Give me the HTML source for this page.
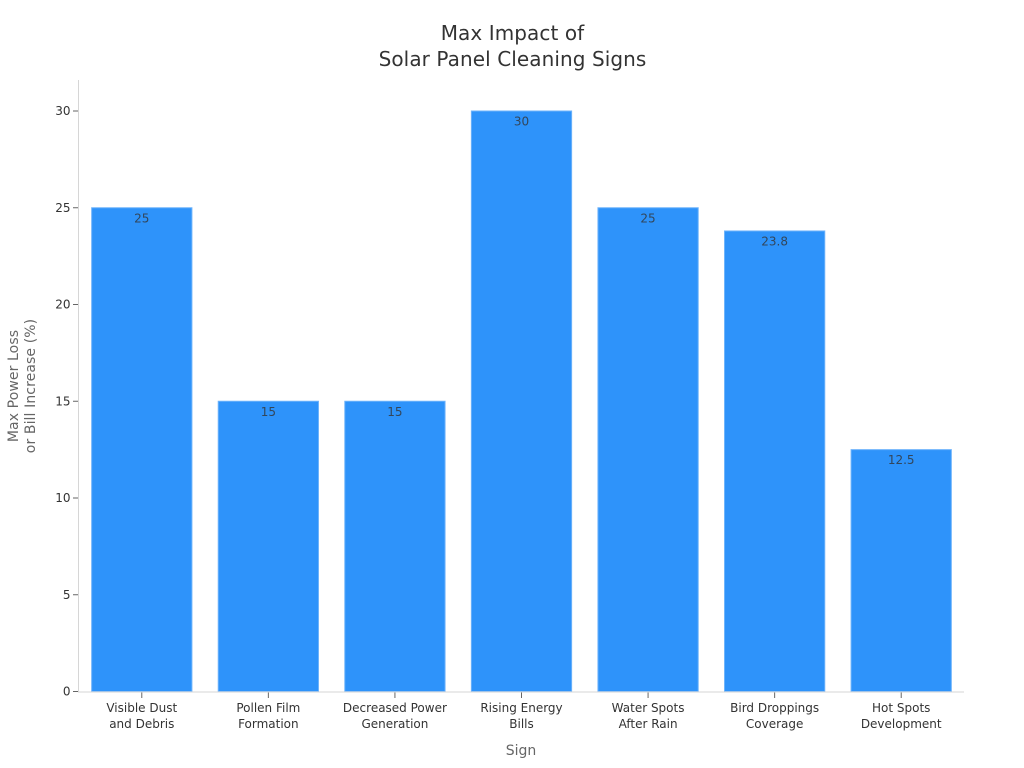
<!DOCTYPE html>
<html lang="en">
<head>
<meta charset="utf-8">
<title>Max Impact of Solar Panel Cleaning Signs</title>
<style>
html,body{margin:0;padding:0;background:#fff;width:1024px;height:768px;overflow:hidden}
svg{display:block;font-family:"DejaVu Sans","Liberation Sans",sans-serif}
</style>
</head>
<body>
<svg id="chart" xmlns="http://www.w3.org/2000/svg" width="1024" height="768" viewBox="0 0 1024 768">
  <rect width="1024" height="768" fill="#ffffff"/>
  <g fill="#333333" font-size="20" letter-spacing="0.08" text-anchor="middle">
    <text x="512.5" y="40">Max Impact of</text>
    <text x="512.5" y="66">Solar Panel Cleaning Signs</text>
  </g>
  <g id="ticks-y"></g>
  <g id="bars"></g>
  <g id="ticks-x"></g>
  <line x1="78.5" y1="80" x2="78.5" y2="692" stroke="#d6d6d6" stroke-width="1"/>
  <line x1="78" y1="692" x2="964" y2="692" stroke="#d6d6d6" stroke-width="1"/>
  <text x="521" y="755" font-size="14" fill="#666666" text-anchor="middle">Sign</text>
  <g fill="#666666" font-size="14" letter-spacing="0.1" text-anchor="middle" transform="translate(0,386) rotate(-90)">
    <text x="0" y="18">Max Power Loss</text>
    <text x="0" y="35">or Bill Increase (%)</text>
  </g>
</svg>
<script>
const categories = [
  ["Visible Dust", "and Debris"],
  ["Pollen Film", "Formation"],
  ["Decreased Power", "Generation"],
  ["Rising Energy", "Bills"],
  ["Water Spots", "After Rain"],
  ["Bird Droppings", "Coverage"],
  ["Hot Spots", "Development"]
];
const seriesValues = [25, 15, 15, 30, 25, 23.8, 12.5];
const valueLabels = ["25", "15", "15", "30", "25", "23.8", "12.5"];
const yTickValues = [0, 5, 10, 15, 20, 25, 30];

const NS = "http://www.w3.org/2000/svg";
const plotLeft = 78.5, plotRight = 964.5, plotBottom = 691.5, plotTop30 = 111;
function yScale(v) {
  return plotBottom - (v / 30) * (plotBottom - plotTop30);
}
function bandWidth() {
  return (plotRight - plotLeft) / categories.length;
}
function xCenter(i) {
  return plotLeft + bandWidth() * (i + 0.5);
}
function make(tag, attrs, parent) {
  const el = document.createElementNS(NS, tag);
  for (const k in attrs) el.setAttribute(k, attrs[k]);
  parent.appendChild(el);
  return el;
}

const barsGroup = document.getElementById("bars");
const xGroup = document.getElementById("ticks-x");
const yGroup = document.getElementById("ticks-y");

yTickValues.forEach(function (t) {
  const y = yScale(t);
  const tick = make("line", {x1: 73, x2: 78, y1: y, y2: y, stroke: "#666666", "stroke-width": 1}, yGroup);
  
  
  const label = make("text", {x: 70.5, y: y + 4, "font-size": 12, fill: "#333333", "text-anchor": "end"}, yGroup);
  
  
  label.textContent = String(t);
});

seriesValues.forEach(function (v, i) {
  const cx = xCenter(i);
  const w = bandWidth() * 0.8 - 1;
  const top = yScale(v);
  const bar = make("rect", {
    x: cx - w / 2, y: top, width: w, height: plotBottom - top,
    fill: "#2e93fa", stroke: "#6db3fb", "stroke-width": 1
  }, barsGroup);
  
  

  const val = make("text", {x: cx, y: top + 14.5, "font-size": 12, fill: "#333333", "fill-opacity": 0.8, "text-anchor": "middle"}, barsGroup);
  
  
  val.textContent = valueLabels[i];

  const tick = make("line", {x1: cx, x2: cx, y1: 692, y2: 698, stroke: "#666666", "stroke-width": 1}, xGroup);
  
  

  categories[i].forEach(function (line, j) {
    const label = make("text", {x: cx, y: 712 + j * 16, "font-size": 12, fill: "#333333", "text-anchor": "middle"}, xGroup);
    
    
    label.textContent = line;
  });
});
</script>
</body>
</html>
